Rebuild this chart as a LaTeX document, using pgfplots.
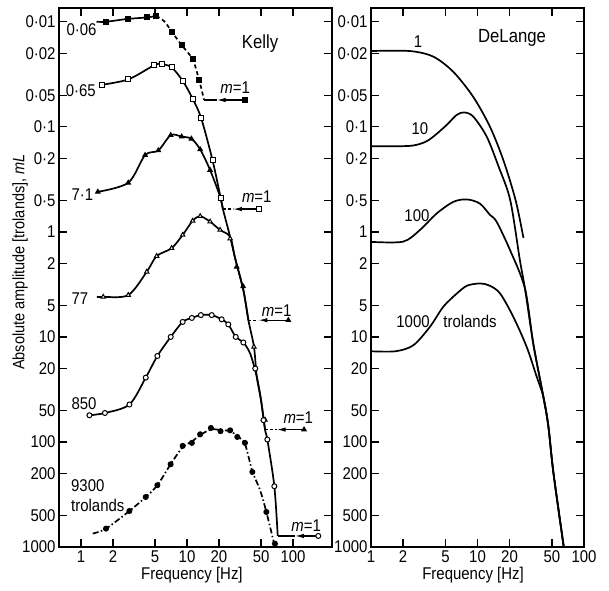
\documentclass[border=0pt]{standalone}
\usepackage{fontspec}
\setmainfont{Liberation Sans}[FakeStretch=0.88]
\usepackage{pgfplots}
\pgfplotsset{compat=1.18}
\usetikzlibrary{arrows.meta}

\pgfplotsset{
  mkf/.style={only marks, mark size=2.5pt, mark options={solid, line width=1pt, fill=black}},
  mko/.style={only marks, mark size=2.5pt, mark options={solid, line width=1pt, fill=white}},
}
\tikzset{
  arr/.style={line width=1.3pt, -{Latex[length=9pt,width=4.5pt]}},
  conn/.style={line width=1.3pt, dash pattern=on 3pt off 2pt},
  lab/.style={font=\fontsize{17}{17}\selectfont},
}

\begin{document}
\begin{tikzpicture}
\useasboundingbox (0,0) rectangle (609pt,-590pt);

% ---------------- Kelly ----------------
\begin{axis}[at={(59pt,-8pt)}, anchor=north west,
  scale only axis, width=273pt, height=539pt,
  xmode=log, ymode=log, y dir=reverse,
  xmin=0.62, xmax=233, ymin=0.0074, ymax=1000,
  axis line style={line width=1.6pt},
  tick align=inside, major tick length=8pt,
  tick style={line width=1.3pt, black},
  ytick={0.01,0.02,0.05,0.1,0.2,0.5,1,2,5,10,20,50,100,200,500,1000},
  yticklabels={0·01,0·02,0·05,0·1,0·2,0·5,1,2,5,10,20,50,100,200,500,1000},
  xtick={1,2,5,10,20,50,100},
  xticklabels={1,2,5,10,20,50,100},
  minor xtick={}, minor ytick={},
  tick label style={font=\fontsize{17}{17}\selectfont},
  xlabel={Frequency [Hz]},
  xlabel style={font=\fontsize{17}{17}\selectfont, at={(axis description cs:0.487,0)}, anchor=center, yshift=-28pt},
  every axis plot/.append style={line width=1.7pt, black}]

% 0.06
\addplot[smooth] coordinates {(1.4,0.0100) (1.72,0.0100) (2.76,0.0094) (4.17,0.0091) (5.1,0.0088)};
\addplot[smooth, dash pattern=on 4pt off 3pt] coordinates {(5.1,0.0088) (6.1,0.0099) (7.2,0.0125) (8.9,0.0167) (11.3,0.0228) (13.0,0.0359) (14.5,0.0556)};
\addplot[mkf, mark=square*] coordinates {(1.72,0.0100) (2.76,0.0094) (4.17,0.0091) (5.1,0.0088) (7.2,0.0125) (8.9,0.0167) (11.3,0.0228) (13.0,0.0359)};
\addplot[line width=1.3pt] coordinates {(14.5,0.0556) (19,0.0556)};
\addplot[arr] coordinates {(35.3,0.0556) (19,0.0556)};
\addplot[mkf, mark=square*] coordinates {(35.3,0.0556)};

% 0.65
\addplot[smooth] coordinates {(1.52,0.040) (2.79,0.0354) (4.88,0.026) (5.77,0.0253) (7.16,0.0272) (9.1,0.0365) (11.3,0.054) (13.6,0.083) (17.4,0.208) (20.8,0.48) (21.8,0.607)};
\addplot[mko, mark=square*] coordinates {(1.57,0.040) (2.79,0.0354) (4.88,0.026) (5.77,0.0253) (7.16,0.0272) (9.1,0.0365) (11.3,0.054) (13.6,0.083) (17.4,0.208) (20.8,0.48)};
\addplot[conn] coordinates {(21.8,0.607) (27.1,0.607)};
\addplot[arr] coordinates {(47.8,0.607) (27.1,0.607)};
\addplot[mko, mark=square*] coordinates {(47.8,0.607)};

% 7.1
\addplot[smooth] coordinates {(1.44,0.416) (2.79,0.341) (4.02,0.186) (5.36,0.168) (7.02,0.12) (8.9,0.124) (11.0,0.13) (13.3,0.164) (16.5,0.258) (20.8,0.48) (21.8,0.607) (25.5,1.116) (28.4,1.78) (34.0,3.59) (37.9,6.93)};
\addplot[mkf, mark=triangle*] coordinates {(1.44,0.416) (2.79,0.341) (4.02,0.186) (5.36,0.168) (7.02,0.12) (8.9,0.124) (11.0,0.13) (13.3,0.164) (16.5,0.258) (29.4,2.15) (33.8,3.3)};
\addplot[conn] coordinates {(37.9,6.93) (47.1,6.93)};
\addplot[arr] coordinates {(90.3,6.93) (47.1,6.93)};
\addplot[mkf, mark=triangle*] coordinates {(90.3,6.93)};

% 77
\addplot[smooth] coordinates {(1.41,4.16) (1.62,4.16) (2.79,4.0) (4.17,2.4) (5.17,1.70) (7.16,1.43) (9.1,1.07) (11.3,0.785) (13.3,0.71) (16.5,0.80) (20.5,0.96) (25.5,1.116) (28.4,1.78) (34.0,3.59) (37.9,6.93) (42.8,12.45) (45.5,24.0) (49.9,40.1) (54.4,76.2)};
\addplot[mko, mark=triangle*] coordinates {(1.62,4.16) (2.79,4.0) (4.17,2.4) (5.17,1.70) (7.16,1.43) (9.1,1.07) (11.3,0.785) (13.3,0.71) (16.5,0.80) (20.5,0.96) (25.5,1.16) (42.8,12.45) (54.4,61.7)};
\addplot[conn] coordinates {(54.4,76.2) (70.1,76.2)};
\addplot[arr] coordinates {(127,76.2) (70.1,76.2)};
\addplot[mkf, mark=triangle*] coordinates {(127,76.2)};

% 850
\addplot[smooth] coordinates {(1.2,55.7) (1.68,53) (2.86,44) (4.08,24.4) (5.25,15.2) (7.02,10) (9.1,7.2) (11.1,6.6) (13.5,6.2) (17.1,6.2) (21.2,6.8) (24.5,7.6) (28.8,10) (34,11.3) (39.5,14.5) (45.5,24.0) (49.9,40.1) (54.4,76.2) (57.2,94.8) (66.6,264) (71.7,785)};
\addplot[mko, mark=*] coordinates {(1.2,55.7) (1.68,53) (2.86,44) (4.08,24.4) (5.25,15.2) (7.02,10) (9.1,7.2) (11.1,6.6) (13.5,6.2) (17.1,6.2) (21.2,6.8) (24.5,7.6) (28.8,10) (34,11.3) (44,20) (52.6,62) (57.2,94.8) (66.6,264)};
\addplot[line width=1.3pt] coordinates {(71.7,785) (104,785)};
\addplot[arr] coordinates {(173,785) (104,785)};
\addplot[mko, mark=*] coordinates {(173,785)};

% 9300
\addplot[smooth, dash pattern=on 6pt off 2.5pt on 1.5pt off 2.5pt] coordinates {(1.29,745) (1.72,668) (2.86,454) (4.08,334) (5.25,258) (7.0,163) (9.1,112) (11.1,99) (13.3,86) (16.8,76) (20.7,77) (25.5,79) (29.8,88) (35.2,105) (41.3,190) (48.9,288) (56,464) (67.5,1000)};
\addplot[mkf, mark=*] coordinates {(1.72,668) (2.86,454) (4.08,334) (5.25,258) (7.0,163) (9.1,109) (11.1,102) (13.3,84.5) (16.8,73.6) (20.7,79) (25.5,77.5) (29.8,89.6) (35.2,102) (41.3,193) (56,464) (67.5,930)};

% labels
\node[lab, anchor=west] at (axis cs:0.676,0.012) {0·06};
\node[lab, anchor=west] at (axis cs:0.665,0.0454) {0·65};
\node[lab, anchor=west] at (axis cs:0.754,0.446) {7·1};
\node[lab, anchor=west] at (axis cs:0.754,4.34) {77};
\node[lab, anchor=west] at (axis cs:0.754,43.3) {850};
\node[lab, anchor=west, inner sep=1pt] at (axis cs:0.787,262) {9300};
\node[lab, anchor=west, inner sep=1pt] at (axis cs:0.787,405) {trolands};
\node[lab] at (axis cs:28.4,0.0428) {\textit{m}=1};
\node[lab] at (axis cs:45.5,0.464) {\textit{m}=1};
\node[lab] at (axis cs:70.1,5.57) {\textit{m}=1};
\node[lab] at (axis cs:112,58.6) {\textit{m}=1};
\node[lab] at (axis cs:133,621) {\textit{m}=1};
\node[font=\fontsize{19}{19}\selectfont] at (axis cs:48.8,0.016) {Kelly};
\end{axis}

% ---------------- DeLange ----------------
\begin{axis}[at={(371pt,-8pt)}, anchor=north west,
  scale only axis, width=213pt, height=539pt,
  xmode=log, ymode=log, y dir=reverse,
  xmin=1, xmax=100, ymin=0.0074, ymax=1000,
  axis line style={line width=1.6pt},
  tick align=inside, major tick length=8pt,
  tick style={line width=1.3pt, black},
  ytick={0.01,0.02,0.05,0.1,0.2,0.5,1,2,5,10,20,50,100,200,500,1000},
  yticklabels={0·01,0·02,0·05,0·1,0·2,0·5,1,2,5,10,20,50,100,200,500,1000},
  xtick={1,2,5,10,20,50,100},
  xticklabels={1,2,5,10,20,50,100},
  minor xtick={}, minor ytick={},
  tick label style={font=\fontsize{17}{17}\selectfont},
  xlabel={Frequency [Hz]},
  xlabel style={font=\fontsize{17}{17}\selectfont, at={(axis description cs:0.479,0)}, anchor=center, yshift=-28pt},
  every axis plot/.append style={line width=1.7pt, black}]

% 1
\addplot[smooth] coordinates {(1,0.019) (2.32,0.019) (3.85,0.0215) (5.93,0.030) (9.13,0.052) (13.1,0.10) (17.5,0.208) (22.8,0.5) (27,1.14)};
% 10
\addplot[smooth] coordinates {(1,0.153) (2.3,0.152) (3.2,0.14) (3.85,0.124) (5.14,0.096) (6.38,0.077) (7.52,0.073) (9.13,0.080) (12.2,0.124) (15.8,0.24) (20.3,0.5) (25.0,1.86) (27.9,3.46) (33.4,11.6) (41.5,37) (46.2,70) (51.5,193) (63.9,929) (64.5,1000)};
% 100
\addplot[smooth] coordinates {(1,1.245) (2.0,1.24) (2.88,0.96) (4.14,0.668) (5.93,0.518) (7.92,0.491) (10.5,0.537) (13.1,0.69) (15.1,0.8) (20.2,1.49) (27.9,3.46) (33.4,11.6) (41.5,37) (46.2,70) (51.5,193) (63.9,929) (64.5,1000)};
% 1000
\addplot[smooth] coordinates {(1,13.7) (1.7,13.7) (2.5,12) (3.58,8) (4.77,5.17) (6.38,3.87) (8,3.25) (10.6,3.1) (13,3.25) (16.3,3.86) (21.7,6.45) (29,12.5) (36,24) (41.5,37) (46.2,70) (51.5,193) (63.9,929) (64.5,1000)};

\node[lab] at (axis cs:2.76,0.0156) {1};
\node[lab] at (axis cs:2.88,0.103) {10};
\node[lab] at (axis cs:2.7,0.708) {100};
\node[lab] at (axis cs:2.48,7.08) {1000};
\node[lab] at (axis cs:8.5,7.08) {trolands};
\node[font=\fontsize{19}{19}\selectfont] at (axis cs:21.1,0.0143) {DeLange};
\end{axis}

\node[rotate=90, font=\fontsize{16.5}{16.5}\selectfont] at (20pt,-262pt) {Absolute amplitude [trolands], \textit{mL}};
\end{tikzpicture}
\end{document}
